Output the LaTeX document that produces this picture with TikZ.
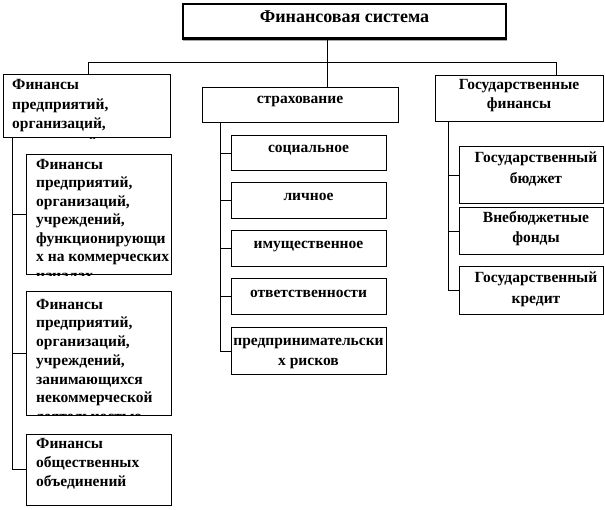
\documentclass[tikz,border=0pt]{standalone}
\usepackage{fontspec}
\setmainfont{Liberation Serif}
\usetikzlibrary{fit}
\tikzset{
  box/.style={draw=black, line width=1pt, inner sep=0pt, fill=none},
  topbox/.style={draw=black, line width=2.6pt, inner sep=0pt},
  link/.style={draw=black, line width=1pt},
  ltxt/.style={inner sep=0pt, anchor=north west, align=left, font=\fontsize{15.5}{#1}\selectfont\bfseries},
  ltxt/.default=18.5,
  ctxt/.style={inner sep=0pt, anchor=north, align=center, font=\fontsize{15.5}{#1}\selectfont\bfseries},
  ctxt/.default=20
}
\begin{document}
\begin{tikzpicture}[x=1pt,y=-1pt]
\useasboundingbox (0,0) rectangle (605,510);

% ---- top box
\draw[gray!70, line width=1.5pt] (183,40.5) -- (507,40.5);
\node[topbox, fit={(183,4) (506,38.5)}] (top) {};
\node[inner sep=0pt, font=\fontsize{18}{20}\selectfont\bfseries] (topt) at (344.5,17) {Финансовая система};

% ---- level-1 boxes
\node[box, fit={(3,75) (170,138)}] (L0) {};
\node[box, fit={(202,88) (398,123)}] (M0) {};
\node[box, fit={(435,76) (603,122)}] (R0) {};

% ---- left children
\node[box, fit={(26,155) (171,275)}] (L1) {};
\node[box, fit={(26,292) (171,415)}] (L2) {};
\node[box, fit={(26,434) (171,505)}] (L3) {};

% ---- middle children
\node[box, fit={(231,136) (386,171)}] (M1) {};
\node[box, fit={(231,183) (386,219)}] (M2) {};
\node[box, fit={(231,231) (386,267)}] (M3) {};
\node[box, fit={(231,279) (386,315)}] (M4) {};
\node[box, fit={(231,328) (386,375)}] (M5) {};

% ---- right children
\node[box, fit={(459,147) (603,204)}] (R1) {};
\node[box, fit={(459,208) (603,255)}] (R2) {};
\node[box, fit={(459,267) (603,315)}] (R3) {};

% ---- connectors
\coordinate (bus) at (327,63);
\coordinate (busL) at (88,63);
\coordinate (busR) at (556,63);
\draw[link] (top.south -| bus) -- (M0.north -| bus);
\draw[link] (busL |- L0.north) -- (busL) -- (busR) -- (busR |- R0.north);

\coordinate (spL) at (12,0);
\coordinate (spM) at (220,0);
\coordinate (spR) at (448,0);
\draw[link] (L0.south -| spL) -- (spL |- L3.west) -- (L3.west);
\draw[link] (spL |- L1.west) -- (L1.west);
\draw[link] (spL |- L2.west) -- (L2.west);

\draw[link] (M0.south -| spM) -- (spM |- M5.west) -- (M5.west);
\draw[link] (spM |- M1.west) -- (M1.west);
\draw[link] (spM |- M2.west) -- (M2.west);
\draw[link] (spM |- M3.west) -- (M3.west);
\draw[link] (spM |- M4.west) -- (M4.west);

\draw[link] (R0.south -| spR) -- (spR |- R3.west) -- (R3.west);
\draw[link] (spR |- R1.west) -- (R1.west);
\draw[link] (spR |- R2.west) -- (R2.west);

% ---- texts (clipped to their boxes)
\begin{scope}
\clip (L0.north west) rectangle (L0.south east);
\node[ltxt=19.5] (L0t) at (12,76) {\strut Финансы\\предприятий,\\организаций,\\учреждений,};
\end{scope}
\begin{scope}
\clip (L1.north west) rectangle (L1.south east);
\node[ltxt] (L1t) at (36,156) {\strut Финансы\\предприятий,\\организаций,\\учреждений,\\функционирующи\\х на коммерческих\\началах};
\end{scope}
\begin{scope}
\clip (L2.north west) rectangle (L2.south east);
\node[ltxt=18.7] (L2t) at (36,296) {\strut Финансы\\предприятий,\\организаций,\\учреждений,\\занимающихся\\некоммерческой\\деятельностью};
\end{scope}
\node[ltxt=19] (L3t) at (36,435) {\strut Финансы\\общественных\\объединений};

\node[ctxt] (M0t) at (300,89) {\strut страхование};
\node[ctxt] (M1t) at (308.5,138) {\strut социальное};
\node[ctxt] (M2t) at (308.5,186) {\strut личное};
\node[ctxt] (M3t) at (308.5,234) {\strut имущественное};
\node[ctxt] (M4t) at (308.5,283) {\strut ответственности};
\node[ctxt] (M5t) at (308.5,331) {\strut предпринимательски\\х рисков};

\node[ctxt=19] (R0t) at (519,76) {\strut Государственные\\финансы};
\node[ctxt=20.5] (R1t) at (536,148) {\strut Государственный\\бюджет};
\node[ctxt=20] (R2t) at (536,208) {\strut Внебюджетные\\фонды};
\node[ctxt=20.5] (R3t) at (536,268) {\strut Государственный\\кредит};
\end{tikzpicture}
\end{document}
